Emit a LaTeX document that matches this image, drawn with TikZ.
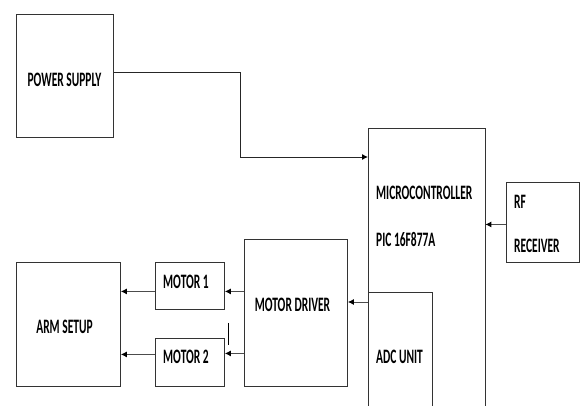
\documentclass[tikz,border=0pt]{standalone}
\usepackage{fontspec}
\setmainfont{Carlito}
\usetikzlibrary{arrows.meta}
\newcommand{\lbltext}[1]{\scalebox{0.56}[1]{\fontsize{20.5}{20.5}\selectfont\bfseries #1}}
\begin{document}
\begin{tikzpicture}[x=1pt,y=-1pt,
  box/.style={draw=black!80, line width=0.9pt, inner sep=0, anchor=north west},
  frame/.style={inner sep=0, anchor=north west},
  outline/.style={draw=black!80, line width=0.9pt},
  lbl/.style={inner sep=0, text=black},
  arr/.style={draw=black!70, line width=0.9pt, -{Latex[length=6pt,width=6pt,black]}}]
\useasboundingbox[fill=white] (0,0) rectangle (582,406);
% boxes
\node[box, minimum width=97pt, minimum height=123pt] (ps) at (16,14) {};
\node[frame, minimum width=117pt, minimum height=278pt] (mc) at (368,128) {};
\node[frame, minimum width=64pt, minimum height=114pt] (adc) at (368,292) {};
\node[box, minimum width=73pt, minimum height=80pt] (rf) at (506,182) {};
\node[box, minimum width=103pt, minimum height=147pt] (md) at (244,239) {};
\node[box, minimum width=69pt, minimum height=47pt] (m1) at (155,262) {};
\node[box, minimum width=69pt, minimum height=48pt] (m2) at (155,338) {};
\node[box, minimum width=104pt, minimum height=124pt] (arm) at (16,262) {};
\draw[outline] (mc.south west) -- (mc.north west) -- (mc.north east) -- (mc.south east);
\draw[outline] (adc.south west) -- (adc.north west) -- (adc.north east) -- (adc.south east);
% labels
\node[lbl] (tps) at (64.5,79.5) {\lbltext{POWER SUPPLY}};
\node[lbl, anchor=west] (tmc) at (376,193) {\lbltext{MICROCONTROLLER}};
\node[lbl, anchor=west] (tpic) at (376,240) {\lbltext{PIC 16F877A}};
\node[lbl, anchor=west] (trf) at (514,202) {\lbltext{RF}};
\node[lbl, anchor=west] (trec) at (514,246) {\lbltext{RECEIVER}};
\node[lbl, anchor=west] (tadc) at (376,357) {\lbltext{ADC UNIT}};
\node[lbl] (tmd) at (292.5,305) {\lbltext{MOTOR DRIVER}};
\node[lbl, anchor=west] (tm1) at (163,282) {\lbltext{MOTOR 1}};
\node[lbl, anchor=west] (tm2) at (163,357) {\lbltext{MOTOR 2}};
\node[lbl] (tarm) at (64.5,327) {\lbltext{ARM SETUP}};
% connectors
\coordinate (bend) at (240,157);
\draw[arr, draw=black!85] ([yshift=3.5pt]ps.east) -| (bend) -- (bend -| mc.west);
\coordinate (rfa) at ([yshift=-2pt]rf.west);
\draw[arr] (rfa) -- (rfa -| mc.east);
\coordinate (mca) at ([yshift=-10pt]adc.north west);
\draw[arr] (mca) -- (mca -| md.east);
\coordinate (m1a) at ([yshift=-5.5pt]m1.east);
\draw[arr] (m1a -| md.west) -- (m1a);
\coordinate (m2a) at ([yshift=9pt]m2.east);
\draw[arr] (m2a -| md.west) -- (m2a);
\coordinate (m1b) at ([yshift=-5.5pt]m1.west);
\draw[arr] (m1b) -- (m1b -| arm.east);
\coordinate (m2b) at ([yshift=8pt]m2.west);
\draw[arr] (m2b) -- (m2b -| arm.east);
% stray tick
\coordinate (s1) at (228,323);
\coordinate (s2) at (228,345);
\draw[outline, draw=black] (s1) -- (s2);
\end{tikzpicture}
\end{document}
